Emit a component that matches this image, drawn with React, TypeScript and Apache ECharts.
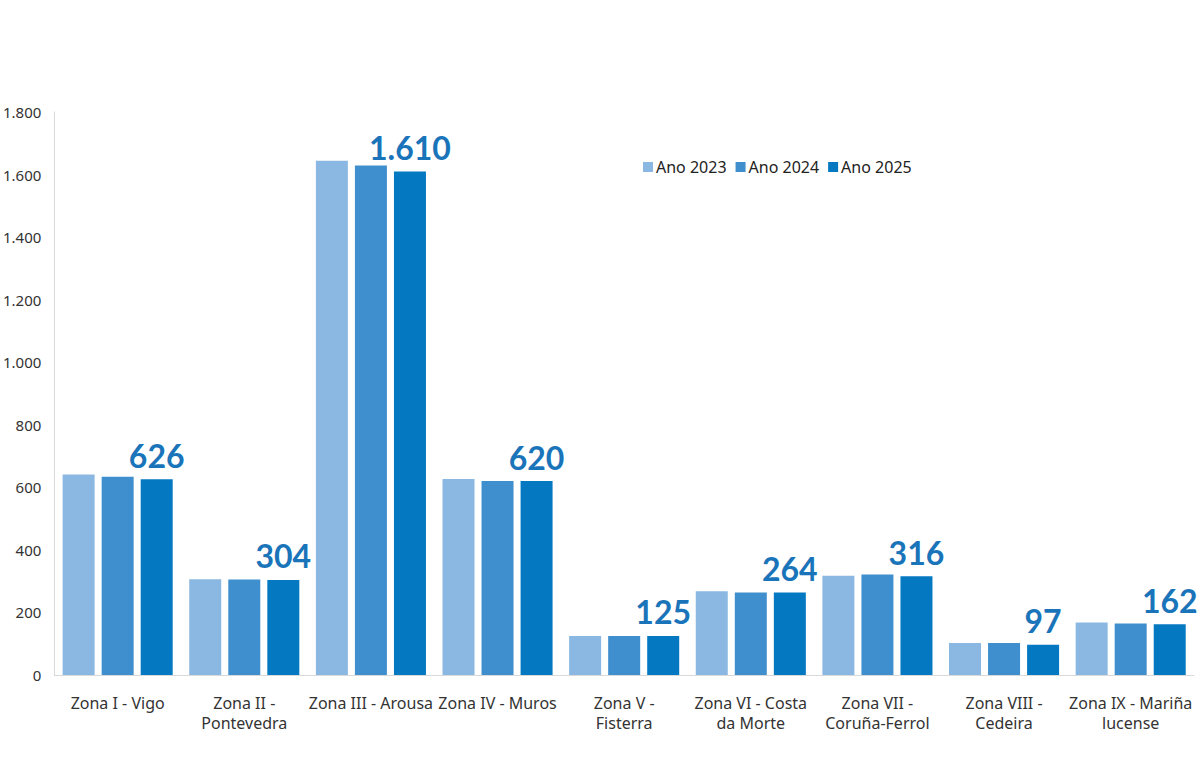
import React, { useEffect, useRef } from "react";
import * as echarts from "echarts";

const categories = [
  "Zona I - Vigo",
  "Zona II -\nPontevedra",
  "Zona III - Arousa",
  "Zona IV - Muros",
  "Zona V -\nFisterra",
  "Zona VI - Costa\nda Morte",
  "Zona VII -\nCoruña-Ferrol",
  "Zona VIII -\nCedeira",
  "Zona IX - Mariña\nlucense",
];
const seriesNames = ["Ano 2023", "Ano 2024", "Ano 2025"];
const values2023 = [641, 306, 1644, 627, 125, 268, 317, 102, 168];
const values2024 = [634, 305, 1629, 620, 125, 264, 321, 102, 165];
const values2025 = [626, 304, 1610, 620, 125, 264, 316, 97, 162];
const colors = ["#8AB8E2", "#3F8FCE", "#0479C1"];

const fmt = (v: number) => String(v).replace(/\B(?=(\d{3})+(?!\d))/g, ".");

export default function App() {
  const ref = useRef<HTMLDivElement>(null);
  useEffect(() => {
    if (!ref.current) return;
    const chart = echarts.init(ref.current, undefined, { renderer: "svg" });
    const font = "'Noto Sans', sans-serif";
    const data = [values2023, values2024, values2025];
    chart.setOption({
      animation: false,
      backgroundColor: "#ffffff",
      textStyle: { fontFamily: font },
      legend: {
        left: 638,
        top: 154,
        itemWidth: 10,
        itemHeight: 10,
        itemGap: 9,
        icon: "rect",
        textStyle: { fontSize: 16, color: "#222", fontFamily: font, padding: [0, 0, 0, -2] },
        data: seriesNames,
      },
      grid: { left: 51, right: 6, top: 112, bottom: 95, containLabel: false },
      xAxis: {
        type: "category",
        data: categories,
        axisLine: { lineStyle: { color: "#d9d9d9", width: 1 } },
        axisTick: { show: false },
        axisLabel: {
          interval: 0,
          fontSize: 16,
          lineHeight: 20,
          color: "#333",
          margin: 18,
          fontFamily: font,
        },
      },
      yAxis: {
        type: "value",
        min: 0,
        max: 1800,
        interval: 200,
        axisLine: { show: true, lineStyle: { color: "#d9d9d9", width: 1 } },
        axisTick: { show: false },
        splitLine: { show: false },
        axisLabel: {
          fontSize: 15,
          color: "#333",
          margin: 13,
          fontFamily: font,
          formatter: (v: number) => fmt(v),
        },
      },
      series: seriesNames.map((name, i) => ({
        name,
        type: "bar",
        data: data[i],
        barWidth: 32,
        barGap: "22%",
        itemStyle: { color: colors[i] },
        label:
          i === 2
            ? {
                show: true,
                position: "top",
                distance: 8,
                fontSize: 32,
                fontWeight: "bold",
                color: "#1A74B9",
                fontFamily: "Lato, 'Noto Sans', sans-serif",
                formatter: (p: any) => fmt(p.value),
              }
            : { show: false },
      })),
    });
    return () => chart.dispose();
  }, []);
  return (
    <div
      ref={ref}
      style={{ position: "fixed", left: 0, top: 0, width: 1200, height: 770 }}
    />
  );
}
